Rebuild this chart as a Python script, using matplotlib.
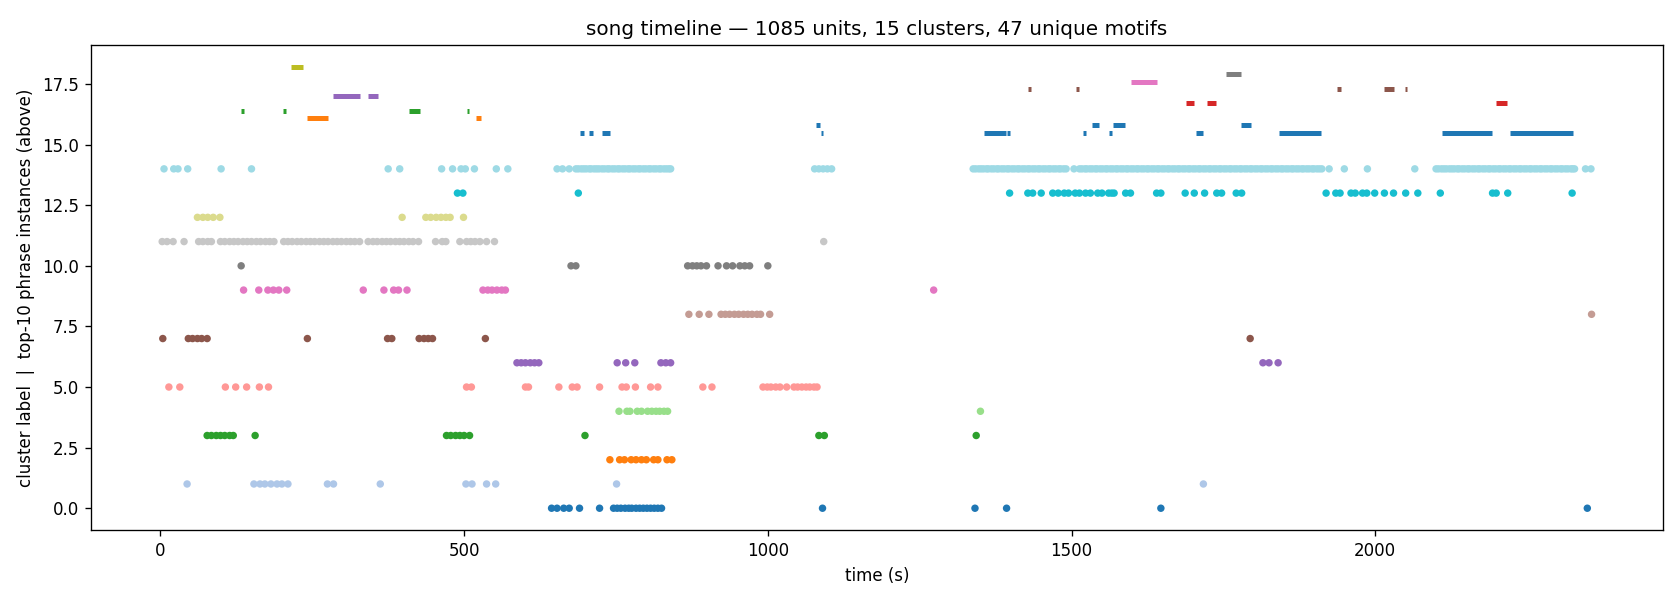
import numpy as np
import matplotlib
matplotlib.use("Agg")
import matplotlib.pyplot as plt

# ---- cluster label timeline (time in seconds per cluster) ----
c0 = [644, 653, 664, 673, 690, 723, 746, 752, 758, 765, 771, 776, 783, 789, 795, 801,
      807, 813, 819, 825, 1090, 1341, 1393, 1647, 2349]
c1 = [44, 154, 164, 172, 182, 192, 200, 210, 275, 285, 362, 503, 513, 537, 552, 751, 1717]
c2 = [740, 756, 764, 775, 783, 792, 800, 812, 819, 834, 842]
c3 = [77, 84, 92, 99, 106, 114, 120, 156, 471, 478, 486, 493, 500, 509, 699, 1084, 1093, 1343]
c4 = [755, 768, 773, 785, 792, 802, 809, 816, 822, 829, 835, 1350]
c5 = [14, 32, 107, 124, 142, 163, 178, 504, 512, 601, 606, 656, 678, 686, 723, 760, 767,
      782, 807, 819, 893, 908, 992, 999, 1005, 1013, 1020, 1031, 1043, 1049, 1056, 1063,
      1069, 1076, 1081]
c6 = [587, 594, 601, 609, 616, 623, 752, 766, 781, 824, 832, 840, 1815, 1825, 1840]
c7 = [4, 46, 53, 61, 68, 77, 242, 374, 381, 426, 434, 441, 448, 535, 1794]
c8 = [870, 887, 903, 923, 930, 937, 945, 952, 960, 967, 974, 982, 988, 1003, 2356]
c9 = [137, 162, 177, 186, 195, 208, 334, 368, 384, 392, 406, 531, 539, 546, 554, 562, 568, 1273]
c10 = [133, 676, 684, 868, 876, 883, 890, 899, 918, 932, 942, 954, 962, 970, 1000]
c11 = [3, 11, 21, 39, 63, 70, 78, 84, 99, 106, 114, 121, 128, 136, 143, 150, 158, 165, 173,
       180, 187, 203, 210, 217, 225, 232, 240, 247, 254, 262, 269, 276, 284, 291, 298, 306,
       313, 320, 328, 342, 350, 357, 365, 372, 379, 387, 394, 401, 409, 416, 425, 453, 464,
       470, 493, 504, 511, 518, 526, 537, 550, 1092]
c12 = [61, 70, 78, 87, 98, 398, 437, 445, 454, 462, 470, 477, 499]
c13 = [489, 498, 688, 1398, 1428, 1436, 1450, 1469, 1478, 1488, 1495, 1506, 1513, 1523,
       1531, 1543, 1550, 1561, 1566, 1570, 1589, 1597, 1640, 1647, 1687, 1702, 1719, 1739,
       1747, 1771, 1780, 1919, 1935, 1942, 1960, 1967, 1979, 1986, 1999, 2015, 2030, 2050,
       2070, 2107, 2193, 2199, 2218, 2324]
c14 = [6, 22, 29, 45, 100, 150, 375, 394, 463, 481, 495, 502, 517, 553, 572, 653, 662, 673,
       684, 688, 693, 697, 701, 706, 709, 714, 718, 722, 727, 731, 736, 739, 744, 748, 753,
       756, 761, 765, 770, 773, 778, 782, 787, 790, 795, 799, 804, 807, 812, 816, 821, 824,
       829, 833, 837, 840,
       1077, 1084, 1091, 1098, 1105,
       1338, 1342, 1347, 1351, 1355, 1360, 1363, 1368, 1372, 1377, 1380, 1385, 1389, 1394,
       1397, 1402, 1406, 1411, 1414, 1419, 1423, 1428, 1431, 1436, 1440, 1445, 1448, 1453,
       1457, 1462, 1465, 1470, 1474, 1479, 1482, 1487, 1491, 1504, 1513, 1517, 1522, 1525,
       1530, 1534, 1539, 1542, 1547, 1551, 1556, 1559, 1564, 1568, 1573, 1576, 1581, 1585,
       1590, 1593, 1598, 1602, 1607, 1610, 1615, 1619, 1624, 1627, 1632, 1636, 1641, 1644,
       1649, 1653, 1658, 1661, 1666, 1670, 1675, 1678, 1683, 1687, 1692, 1695, 1700, 1704,
       1709, 1712, 1717, 1721, 1726, 1729, 1734, 1738, 1743, 1746, 1751, 1755, 1760, 1763,
       1768, 1772, 1777, 1780, 1785, 1789, 1794, 1797, 1802, 1806, 1811, 1814, 1819, 1823,
       1828, 1831, 1836, 1840, 1845, 1848, 1853, 1857, 1862, 1865, 1870, 1874, 1879, 1882,
       1887, 1891, 1896, 1899, 1904, 1908, 1912,
       1924, 1949, 1987, 2065,
       2100, 2104, 2109, 2113, 2117, 2122, 2126, 2130, 2135, 2138, 2143, 2147, 2152, 2155,
       2160, 2164, 2169, 2172, 2177, 2181, 2186, 2189, 2194, 2198, 2203, 2206, 2211, 2215,
       2220, 2223, 2228, 2232, 2237, 2240, 2245, 2249, 2254, 2257, 2262, 2266, 2271, 2274,
       2279, 2283, 2288, 2291, 2296, 2300, 2305, 2308, 2313, 2317, 2322, 2325, 2328,
       2346, 2355]

clusters = [c0, c1, c2, c3, c4, c5, c6, c7, c8, c9, c10, c11, c12, c13, c14]

# ---- top-10 phrase instances: (start, end) in seconds, one list per phrase rank ----
phrase_levels = [15.5, 15.8, 16.1, 16.4, 16.7, 17.0, 17.3, 17.6, 17.9, 18.2]
phrase_colors = ["C0", "C0", "C1", "C2", "C3", "C4", "C5", "C6", "C7", "C8"]
phrases = [
    [(690, 698), (705, 713), (727.5, 739.5), (1087, 1090), (1355.5, 1392.5), (1394.5, 1398),
     (1518.5, 1523), (1561.5, 1566), (1704.5, 1716), (1841, 1910.5), (2110, 2192), (2221.5, 2326)],
    [(1080, 1086), (1533, 1545), (1568, 1588.5), (1778.5, 1795)],
    [(242, 275.5), (519, 528)],
    [(133, 138), (202, 207), (410, 428), (505.5, 508.5)],
    [(1688.5, 1701.5), (1722.5, 1738.5), (2198.5, 2216)],
    [(285, 328), (342, 358.5)],
    [(1428, 1434), (1507, 1513), (1937, 1944), (2014, 2031), (2049, 2052)],
    [(1598, 1641)],
    [(1755, 1779)],
    [(215.5, 235)],
]

title = "song timeline \u2014 1085 units, 15 clusters, 47 unique motifs"

fig = plt.figure(figsize=(14, 5), dpi=120)
ax = fig.add_axes([0.054, 0.1162, 0.9359, 0.8088])

times = np.concatenate([np.asarray(c, dtype=float) for c in clusters])
labels = np.concatenate([np.full(len(c), k) for k, c in enumerate(clusters)])
ax.scatter(times, labels, c=labels, cmap="tab20", s=12)

for lvl, col, segs in zip(phrase_levels, phrase_colors, phrases):
    starts = [s for s, e in segs]
    ends = [e for s, e in segs]
    ax.hlines([lvl] * len(segs), starts, ends, colors=col, linewidth=3)

ax.set_title(title)
ax.set_xlabel("time (s)")
ax.set_ylabel("cluster label  |  top-10 phrase instances (above)")

fig.savefig("out.png", dpi=120)
